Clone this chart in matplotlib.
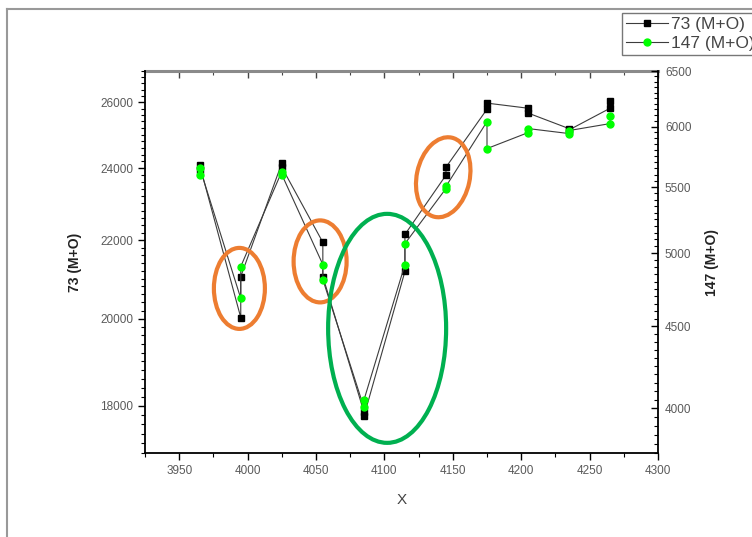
import matplotlib
matplotlib.use("Agg")
import matplotlib.pyplot as plt
from matplotlib.lines import Line2D
from matplotlib.patches import Ellipse
from matplotlib.transforms import IdentityTransform
from matplotlib.ticker import FixedLocator, NullFormatter, FuncFormatter, MultipleLocator

plt.rcParams["font.family"] = ["Liberation Sans", "DejaVu Sans"]

# two replicate readings per x, in the order the trace visits them
x_values = [3965, 3965, 3995, 3995, 4025, 4025, 4055, 4055, 4085, 4085, 4115, 4115,
            4145, 4145, 4175, 4175, 4205, 4205, 4235, 4235, 4265, 4265]
ion_73 = [23940, 24090, 20030, 21050, 24150, 24030, 21940, 21050, 17870, 17770,
          21180, 22150, 23800, 24030, 25780, 25970, 25810, 25660, 25180, 25140,
          25810, 26030]
ion_147 = [5600, 5656, 4685, 4905, 5624, 5600, 4919, 4814, 4005, 4046,
           4919, 5069, 5488, 5505, 6043, 5813, 5948, 5983, 5940, 5966,
           6026, 6096]

left_ticks = [18000, 20000, 22000, 24000, 26000]
right_ticks = [4000, 4500, 5000, 5500, 6000, 6500]
x_ticks = [3950, 4000, 4050, 4100, 4150, 4200, 4250, 4300]

label_73 = "73 (M+O)"
label_147 = "147 (M+O)"

W, H = 752, 537
fig = plt.figure(figsize=(W / 100, H / 100), dpi=100)
ax = fig.add_axes([145 / W, 1 - 453 / H, 513 / W, 382 / H])
ax2 = ax.twinx()

tick_color = "#5a5a5a"
line_color = "#3c3c3c"

h1, = ax.plot(x_values, ion_73, color=line_color, lw=0.8, marker="s",
              markersize=4.5, markerfacecolor="black", markeredgecolor="black",
              label=label_73, zorder=3)
h2, = ax2.plot(x_values, ion_147, color=line_color, lw=0.8, marker="o",
               markersize=5, markerfacecolor="#00ff00", markeredgecolor="#00ff00",
               label=label_147, zorder=3)

ax.set_xlim(3925, 4300)
ax.set_yscale("log")
ax.set_ylim(17000, 27000)
ax2.set_yscale("log")
ax2.set_ylim(3750, 6500)

plain = FuncFormatter(lambda v, p: "%d" % v)

ax.yaxis.set_major_locator(FixedLocator(left_ticks))
ax.yaxis.set_major_formatter(plain)
ax.yaxis.set_minor_locator(FixedLocator([v for v in range(17000, 27001, 200) if v not in left_ticks]))
ax.yaxis.set_minor_formatter(NullFormatter())

ax2.yaxis.set_major_locator(FixedLocator(right_ticks))
ax2.yaxis.set_major_formatter(plain)
ax2.yaxis.set_minor_locator(FixedLocator([v for v in range(3750, 6501, 50) if v not in right_ticks]))
ax2.yaxis.set_minor_formatter(NullFormatter())

ax.xaxis.set_major_locator(FixedLocator(x_ticks))
ax.xaxis.set_minor_locator(MultipleLocator(25))

ax.tick_params(axis="both", which="major", direction="out", length=5, width=1,
               labelsize=8.5, labelcolor=tick_color)
ax.tick_params(axis="both", which="minor", direction="out", length=3, width=0.8)
ax2.tick_params(axis="y", which="major", direction="in", length=5, width=1,
                labelsize=8.5, labelcolor=tick_color, pad=5)
ax2.tick_params(axis="y", which="minor", direction="in", length=3, width=0.8)

top = ax.secondary_xaxis("top")
top.xaxis.set_major_locator(FixedLocator(x_ticks))
top.xaxis.set_minor_locator(MultipleLocator(25))
top.tick_params(which="major", direction="in", length=5, width=1, labeltop=False,
                color="#444444")
top.tick_params(which="minor", direction="in", length=3, width=0.8, color="#444444")
top.spines["top"].set_color("#8a8a8a")
top.spines["top"].set_linewidth(2.2)

ax.spines["top"].set_visible(False)
ax.spines["right"].set_visible(False)
ax.spines["left"].set_linewidth(1.3)
ax.spines["bottom"].set_linewidth(1.3)
for side in ["top", "left", "bottom"]:
    ax2.spines[side].set_visible(False)
ax2.spines["right"].set_linewidth(1.3)

ax.set_ylabel(label_73, fontsize=10, fontweight="bold", color="#222222", labelpad=13)
ax2.set_ylabel(label_147, fontsize=10, fontweight="bold", color="#222222", labelpad=10)
ax.set_xlabel("X", fontsize=11, color="#444444", labelpad=12)

# hand-drawn highlight rings: centre (x, left-axis value), size in pixels, tilt
rings = [
    (3994, 20750, 51, 81, 0, "#ED7D31"),
    (4053, 21440, 53, 82, 0, "#ED7D31"),
    (4143, 23740, 53, 81, -12, "#ED7D31"),
    (4102, 19770, 118, 229, 0, "#00B050"),
]
for cx, cy, w, h, ang, col in rings:
    px = ax.transData.transform((cx, cy))
    ax2.add_patch(Ellipse(px, w, h, angle=ang, fill=False, edgecolor=col, lw=3,
                          transform=IdentityTransform(), zorder=5, clip_on=False))

leg = fig.legend(handles=[h1, h2], loc="upper left",
                 bbox_to_anchor=(622 / W, 1 - 13 / H), bbox_transform=fig.transFigure,
                 fontsize=12.5, frameon=True, fancybox=False, handlelength=2.4,
                 handletextpad=0.2, borderpad=0.25, labelspacing=0.2,
                 borderaxespad=0)
leg.get_frame().set_edgecolor("#555555")
leg.get_frame().set_linewidth(1)
for t in leg.get_texts():
    t.set_color("#444444")

# window border of the original graph page
fig.add_artist(Line2D([7 / W, 7 / W], [0, 1 - 9 / H], transform=fig.transFigure,
                      color="#999999", lw=1.5))
fig.add_artist(Line2D([7 / W, 1], [1 - 9 / H, 1 - 9 / H], transform=fig.transFigure,
                      color="#999999", lw=1.5))

fig.savefig("out.png", dpi=100)
